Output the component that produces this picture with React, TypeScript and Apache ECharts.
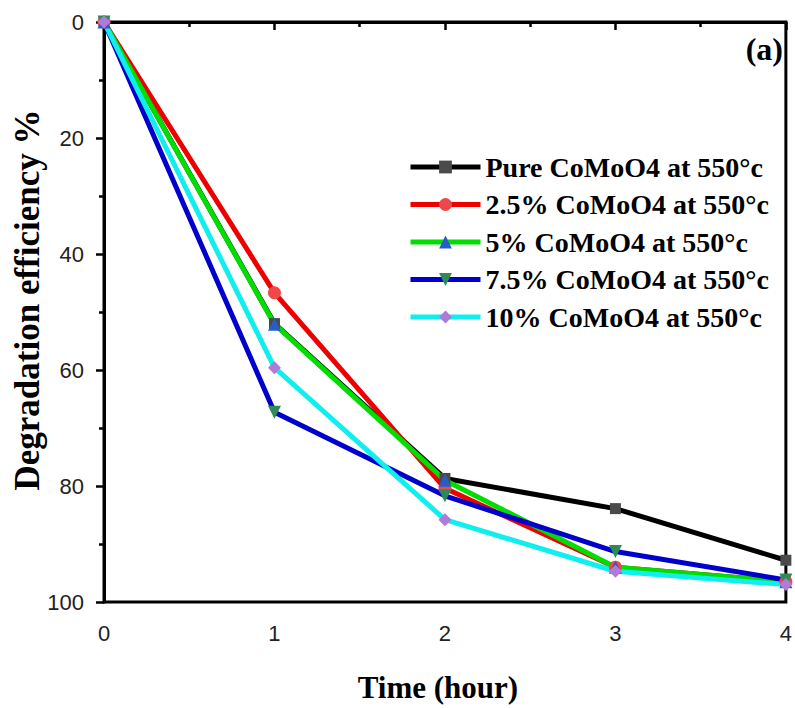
import React, { useEffect, useRef } from "react";
import * as echarts from "echarts";

const timeHours = [0, 1, 2, 3, 4];
const seriesNames = [
  "Pure CoMoO4 at 550°c",
  "2.5% CoMoO4 at 550°c",
  "5% CoMoO4 at 550°c",
  "7.5% CoMoO4 at 550°c",
  "10% CoMoO4 at 550°c",
];
const pureValues = [0, 52, 78.7, 83.9, 92.8];
const p25Values = [0, 46.7, 80.4, 94.0, 96.5];
const p5Values = [0, 52.1, 79.0, 94.0, 96.5];
const p75Values = [0, 67.3, 81.7, 91.3, 96.2];
const p10Values = [0, 59.6, 85.8, 94.7, 97.0];
const lineColors = ["#000000", "#ee0000", "#00dd00", "#0000cc", "#11eeee"];
const markerColors = ["#4a4a4a", "#f04848", "#2a5cc8", "#2e8b57", "#b07ad8"];
const markerSymbols = ["rect", "circle", "triangle", "path://M0,0 L10,0 L5,9 Z", "diamond"];

export default function App() {
  const ref = useRef<HTMLDivElement>(null);
  useEffect(() => {
    document.body.style.margin = "0";
    if (!ref.current) return;
    const chart = echarts.init(ref.current, null, { renderer: "svg" });
    const all = [pureValues, p25Values, p5Values, p75Values, p10Values];
    const serif = "'Liberation Serif', 'Times New Roman', serif";
    const sans = "'Liberation Sans', Arial, sans-serif";
    chart.setOption({
      animation: false,
      backgroundColor: "#ffffff",
      grid: {
        left: 104,
        right: 8,
        top: 22,
        bottom: 102,
        show: true,
        borderColor: "#000",
        borderWidth: 3,
      },
      legend: {
        orient: "vertical",
        left: 408,
        top: 153,
        padding: 0,
        itemWidth: 70,
        itemHeight: 16,
        itemGap: 9.5,
        lineStyle: { width: 5 },
        textStyle: {
          fontFamily: serif,
          fontWeight: "bold",
          fontSize: 28,
          lineHeight: 28,
          color: "#000",
        },
        data: seriesNames,
      },
      graphic: [
        {
          type: "text",
          right: 12,
          top: 33,
          style: {
            text: "(a)",
            font: `bold 32px ${serif}`,
            fill: "#000",
          },
        },
        {
          type: "text",
          x: 27,
          y: 300,
          rotation: Math.PI / 2,
          style: {
            text: "Degradation efficiency %",
            font: `bold 35px ${serif}`,
            fill: "#000",
            align: "center",
            verticalAlign: "middle",
          },
        },
      ],
      xAxis: {
        type: "value",
        min: 0,
        max: 4,
        interval: 1,
        name: "Time (hour)",
        nameLocation: "middle",
        nameGap: 70,
        nameTextStyle: { fontFamily: serif, fontWeight: "bold", fontSize: 31, color: "#000", padding: [0, 14, 0, 0] },
        axisLine: { lineStyle: { color: "#000", width: 3 } },
        axisTick: { show: true, length: 8, lineStyle: { width: 2.5, color: "#000" } },
        minorTick: { show: true, splitNumber: 2, length: 5, lineStyle: { width: 2.5, color: "#000" } },
        splitLine: { show: false },
        axisLabel: { fontFamily: sans, fontSize: 22, color: "#222", margin: 20 },
      },
      yAxis: {
        type: "value",
        inverse: true,
        min: 0,
        max: 100,
        interval: 20,
        axisLine: { lineStyle: { color: "#000", width: 3 } },
        axisTick: { show: true, length: 8, lineStyle: { width: 2.5, color: "#000" } },
        minorTick: { show: true, splitNumber: 2, length: 5, lineStyle: { width: 2.5, color: "#000" } },
        splitLine: { show: false },
        axisLabel: { fontFamily: sans, fontSize: 22, color: "#222", margin: 20 },
      },
      series: seriesNames.map((name, i) => ({
        name,
        type: "line",
        data: timeHours.map((t, j) => [t, all[i][j]]),
        symbol: markerSymbols[i],
        symbolSize: i === 0 ? 11 : 13,
        showSymbol: true,
        lineStyle: { color: lineColors[i], width: 5 },
        itemStyle: { color: markerColors[i] },
        color: lineColors[i],
      })),
    });
    return () => chart.dispose();
  }, []);
  return <div ref={ref} style={{ width: 795, height: 708 }} />;
}
